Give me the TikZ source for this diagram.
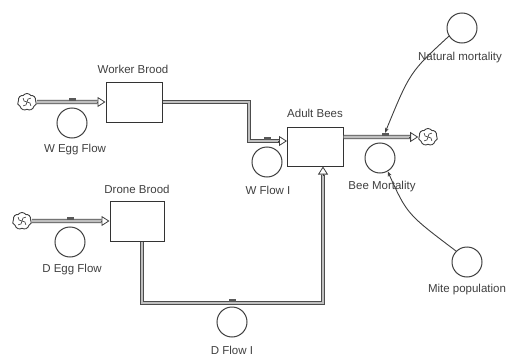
\documentclass[tikz,border=0pt]{standalone}
\usepackage{fontspec}
\setmainfont{Liberation Sans}
\usetikzlibrary{arrows.meta,shapes.symbols,calc}
\begin{document}
\begin{tikzpicture}[x=1pt,y=-1pt,
 every node/.style={font=\fontsize{11.5}{13}\selectfont, text=black!75},
 stock/.style={draw=black!80, line width=1pt, inner sep=0, minimum width=56pt, minimum height=40pt},
 conv/.style={draw=black!75, circle, line width=1pt, inner sep=0, minimum size=30pt},
 cloudnode/.style={draw=black!75, cloud, cloud puffs=7, cloud puff arc=110, aspect=1.1, inner sep=0, minimum width=19pt, minimum height=17pt, line width=0.9pt},
 pipe/.style={draw=black!70, line width=0.8pt, double=black!25, double distance=2.6pt, line join=miter},
 tip/.style={draw=black!75, line width=0.8pt, -{Triangle[fill=white,length=8pt,width=10pt]}},
 valve/.style={fill=black!65, inner sep=0, minimum width=7pt, minimum height=3pt},
 link/.style={draw=black!75, line width=0.9pt, -{Stealth[length=5pt,width=4pt]}},
 swirl/.style={draw=black!70, line width=0.7pt}
]
\fill[white] (0,0) rectangle (509,356);
\useasboundingbox (0,0) rectangle (509,356);

% stocks
\node[stock] (wb) at (134,102) {};
\node (wbl) at (133,69) {Worker Brood};
\node[stock, minimum height=39pt] (ab) at (315,146.5) {};
\node (abl) at (315,113) {Adult Bees};
\node[stock, minimum width=54pt] (db) at (137,221) {};
\node (dbl) at (137,189) {Drone Brood};

% clouds
\node[cloudnode] (cw) at (27,102) {};
\node[cloudnode] (cd) at (22,221) {};
\node[cloudnode] (cs) at (428,137) {};
\foreach \c in {cw,cd,cs}{
  \foreach \a in {45,135,225,315}{
    \draw[swirl] (\c.center) to[bend left=60] ($(\c.center)+(\a:5.5)$);
  }
}

% coordinates
\coordinate (wbin) at ($(wb.west)+(-8,0)$);
\coordinate (dbin) at ($(db.west)+(-8,0)$);
\coordinate (c2) at (249,141);
\coordinate (abin) at (279,141);
\coordinate (abinE) at (287,141);
\coordinate (d1) at ($(db.south)+(5,0)$);
\coordinate (dcorner) at (323,303);
\coordinate (abB) at ($(ab.south)+(8,0)$);
\coordinate (abBin) at ($(abB)+(0,8)$);
\coordinate (abo) at ($(ab.east)+(0,-9.5)$);
\coordinate (csin) at ($(cs.west)+(-8,0)$);

% pipes
\draw[pipe] (cw.east) -- (wbin);
\draw[tip] ($(wbin)+(-1,0)$) -- (wb.west);
\draw[pipe] (cd.east) -- (dbin);
\draw[tip] ($(dbin)+(-1,0)$) -- (db.west);
\draw[pipe] (wb.east) -| (c2) -- (abin);
\draw[tip] ($(abin)+(-1,0)$) -- (abinE);
\draw[pipe] (d1) |- (dcorner) -- (abBin);
\draw[tip] ($(abBin)+(0,1)$) -- (abB);
\draw[pipe] (abo) -- (csin);
\draw[tip] ($(csin)+(-1,0)$) -- (cs.west);

% valves
\node[valve] (v1) at (72,99.5) {};
\node[valve] (v2) at (70,218.5) {};
\node[valve] (v3) at (267,138.5) {};
\node[valve] (v4) at (385,134.5) {};
\node[valve] (v5) at (232,300.5) {};

% converters
\node[conv] (wef) at (72,123) {};
\node (wefl) at (75,150) {W Egg Flow};
\node[conv] (def) at (70,242) {};
\node (defl) at (72,270) {D Egg Flow};
\node[conv] (wfi) at (267,162) {};
\node (wfil) at (268,190) {W Flow I};
\node[conv] (bm) at (380,158) {};
\node (bml) at (382,187) {Bee Mortality};
\node[conv] (dfi) at (232,322) {};
\node (dfil) at (232,350) {D Flow I};
\node[conv] (nm) at (462,28) {};
\node (nml) at (460,58) {Natural mortality};
\node[conv] (mp) at (467,262) {};
\node (mpl) at (467,290) {Mite population};

% links
\draw[link] (nm.212) .. controls (410,72) .. (v4.north);
\draw[link] (mp.135) .. controls (407,214) .. (bm.300);
\end{tikzpicture}
\end{document}
